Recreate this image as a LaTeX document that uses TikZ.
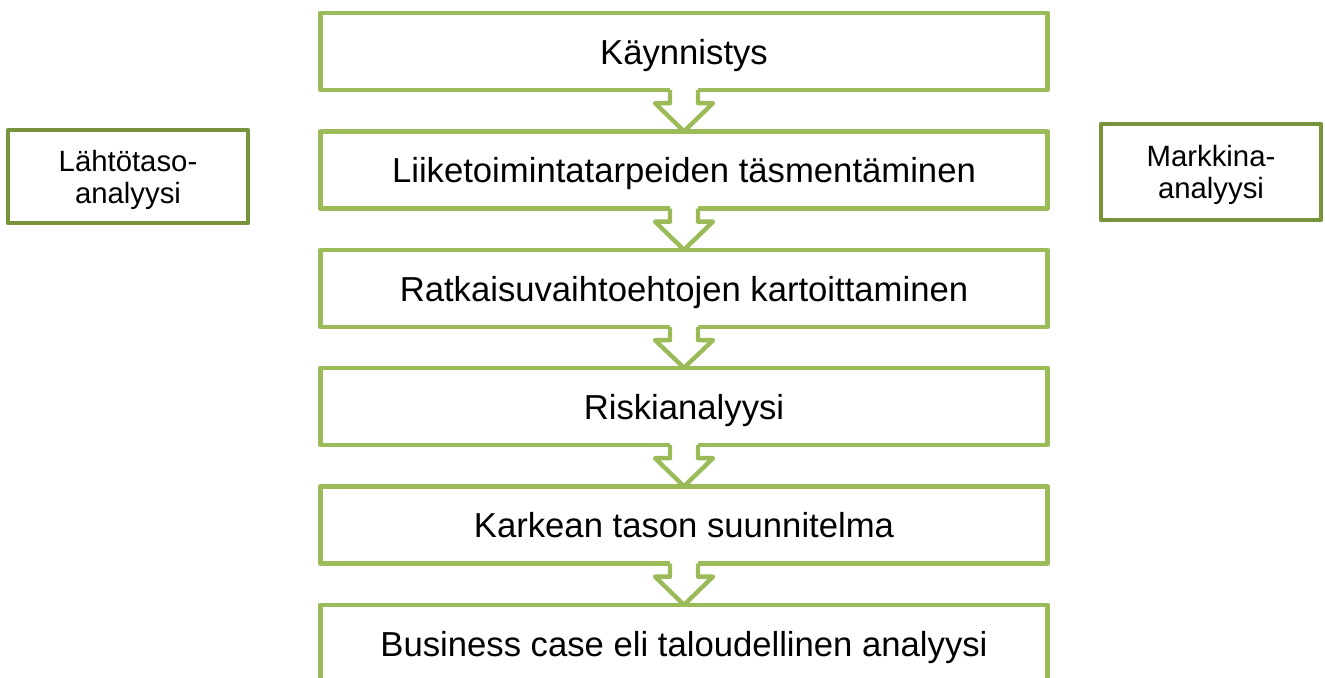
\documentclass[tikz,border=0pt]{standalone}
\usepackage{fontspec}
\setmainfont{Liberation Sans}
\usetikzlibrary{calc}
\definecolor{boxgreen}{HTML}{9BBB59}
\definecolor{sidegreen}{HTML}{77933C}
\tikzset{
  stepbox/.style={draw=boxgreen, line width=3.3pt, line join=round, fill=white, rectangle,
    minimum width=545.5pt, minimum height=58pt, inner sep=0pt, outer sep=0pt,
    text depth=0pt, font=\fontsize{26}{30}\selectfont},
  sidebox/.style={draw=sidegreen, line width=3.6pt, line join=round, fill=white, rectangle,
    inner sep=0pt, outer sep=0pt, align=center, text depth=0pt,
    font=\fontsize{22}{24}\selectfont},
  chevfill/.style={fill=white, draw=none},
  chevline/.style={draw=boxgreen, line width=3.3pt, line join=round}
}
\newcommand{\chev}[2]{%
  \fill[chevfill] ($(#1.south)+(-14,-4)$) -- ($(#1.south)+(-14,13)$) -- ($(#1.south)+(-29,13)$)
    -- (#2.north) -- ($(#1.south)+(29,13)$) -- ($(#1.south)+(14,13)$) -- ($(#1.south)+(14,-4)$) -- cycle;
  \draw[chevline] ($(#1.south)+(-14,0)$) -- ($(#1.south)+(-14,13)$) -- ($(#1.south)+(-29,13)$)
    -- (#2.north) -- ($(#1.south)+(29,13)$) -- ($(#1.south)+(14,13)$) -- ($(#1.south)+(14,0)$);
}
\begin{document}
\begin{tikzpicture}[x=0.75pt,y=-0.75pt]
\useasboundingbox (0,0) rectangle (1325,678);
\clip (0,0) rectangle (1325,678);
\node[stepbox] (s1) at (684,51.5) {Käynnistys};
\node[stepbox] (s2) at (684,170) {Liiketoimintatarpeiden täsmentäminen};
\node[stepbox] (s3) at (684,288.5) {Ratkaisuvaihtoehtojen kartoittaminen};
\node[stepbox] (s4) at (684,406.5) {Riskianalyysi};
\node[stepbox] (s5) at (684,525) {Karkean tason suunnitelma};
\node[stepbox] (s6) at (684,643.5) {Business case eli taloudellinen analyysi};
\chev{s1}{s2}
\chev{s2}{s3}
\chev{s3}{s4}
\chev{s4}{s5}
\chev{s5}{s6}
\node[sidebox, minimum width=180pt, minimum height=69.75pt] (la) at (128,176.5) {Lähtötaso-\\analyysi};
\node[sidebox, minimum width=165pt, minimum height=72pt] (ma) at (1211,172) {Markkina-\\analyysi};
\end{tikzpicture}
\end{document}
